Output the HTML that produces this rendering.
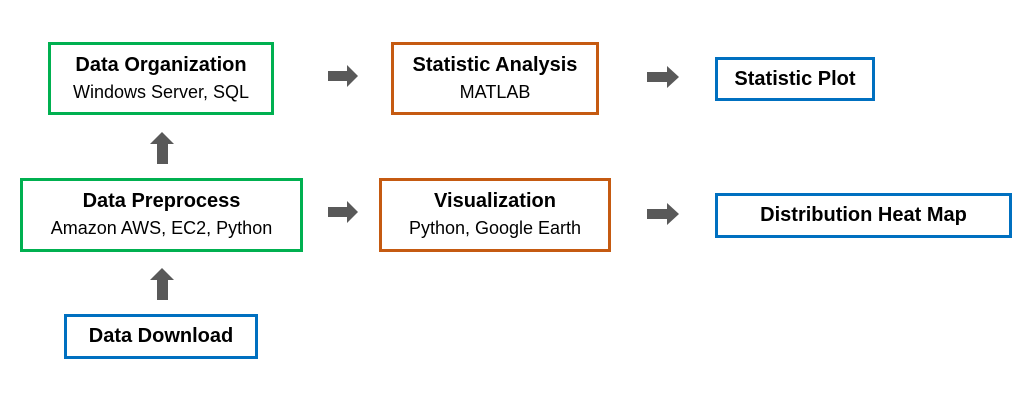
<!DOCTYPE html>
<html><head><meta charset="utf-8"><style>
body{margin:0;width:1020px;height:405px;background:#fff;position:relative;overflow:hidden;font-family:"Liberation Sans",sans-serif;}
.b{position:absolute;box-sizing:border-box;border:3px solid;display:flex;flex-direction:column;justify-content:center;align-items:center;text-align:center;color:#000;line-height:27px;white-space:nowrap}
.g{border-color:#00b050}.o{border-color:#c55a11}.u{border-color:#0070c0}
.t{font-weight:bold;font-size:20px}.s{font-size:18px}
svg{position:absolute;left:0;top:0}
</style></head><body>
<div class="b g" style="left:48px;top:42px;width:226px;height:73px"><div class="t">Data Organization</div><div class="s">Windows Server, SQL</div></div>
<div class="b g" style="left:20px;top:178px;width:283px;height:74px"><div class="t">Data Preprocess</div><div class="s">Amazon AWS, EC2, Python</div></div>
<div class="b u" style="left:64px;top:314px;width:194px;height:45px"><div class="t">Data Download</div></div>
<div class="b o" style="left:391px;top:42px;width:208px;height:73px"><div class="t">Statistic Analysis</div><div class="s">MATLAB</div></div>
<div class="b o" style="left:379px;top:178px;width:232px;height:74px"><div class="t">Visualization</div><div class="s">Python, Google Earth</div></div>
<div class="b u" style="left:715px;top:57px;width:160px;height:44px"><div class="t">Statistic Plot</div></div>
<div class="b u" style="left:715px;top:193px;width:297px;height:45px"><div class="t">Distribution Heat Map</div></div>
<svg width="1020" height="405" fill="#595959">
<polygon points="157,164 168,164 168,144 174,144 162,132 150,144 157,144"/>
<polygon points="157,300 168,300 168,280 174,280 162,268 150,280 157,280"/>
<polygon points="328,71 347,71 347,65 358,76 347,87 347,81 328,81"/>
<polygon points="328,207 347,207 347,201 358,212 347,223 347,217 328,217"/>
<polygon points="647,72 667,72 667,66 679,77 667,88 667,82 647,82"/>
<polygon points="647,209 667,209 667,203 679,214 667,225 667,219 647,219"/>
</svg>
</body></html>
